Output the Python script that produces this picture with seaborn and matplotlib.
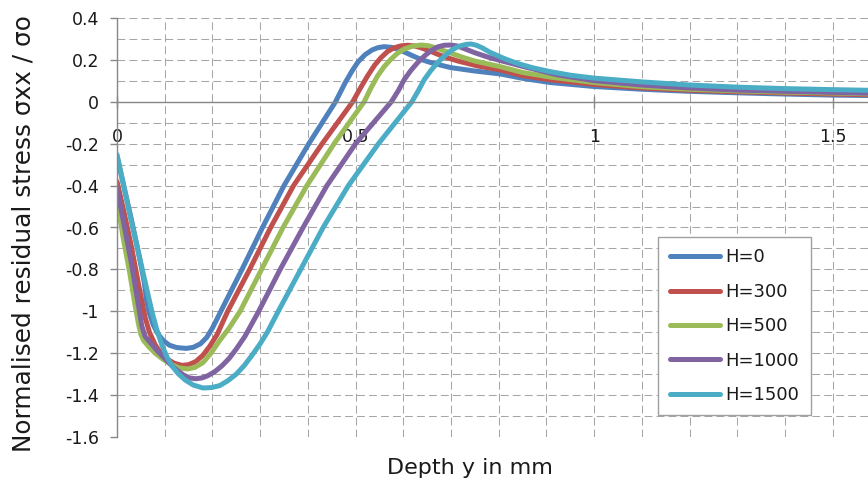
import matplotlib
matplotlib.use("Agg")
import matplotlib.pyplot as plt
from matplotlib.ticker import MultipleLocator
import numpy as np
import pandas as pd
import seaborn as sns

# Residual stress profiles (normalised) versus depth for several H values
labels = ["H=0", "H=300", "H=500", "H=1000", "H=1500"]
colors = ["#4F81BD", "#C0504D", "#9BBB59", "#8064A2", "#4BACC6"]

depth_h0 = [0.000, 0.015, 0.030, 0.045, 0.057, 0.062, 0.068, 0.076, 0.085, 0.097,
            0.110, 0.125, 0.145, 0.160, 0.175, 0.188, 0.200, 0.210, 0.222, 0.262,
            0.305, 0.350, 0.402, 0.458, 0.478, 0.492, 0.505, 0.520, 0.535, 0.548,
            0.560, 0.575, 0.590, 0.605, 0.623, 0.640, 0.658, 0.680, 0.700, 0.750,
            0.803, 0.850, 0.908, 1.000, 1.100, 1.200, 1.300, 1.400, 1.500, 1.575]
stress_h0 = [-0.26, -0.41, -0.56, -0.72, -0.86, -0.95, -1.01, -1.065, -1.105, -1.14,
             -1.162, -1.173, -1.177, -1.172, -1.155, -1.125, -1.08, -1.035, -0.98, -0.80,
             -0.60, -0.40, -0.20, 0.00, 0.09, 0.145, 0.19, 0.225, 0.248, 0.259,
             0.263, 0.26, 0.25, 0.235, 0.216, 0.20, 0.187, 0.174, 0.163, 0.147,
             0.133, 0.112, 0.092, 0.073, 0.060, 0.050, 0.043, 0.037, 0.032, 0.030]

depth_h300 = [0.000, 0.015, 0.031, 0.045, 0.059, 0.068, 0.080, 0.092, 0.105, 0.120,
              0.136, 0.150, 0.165, 0.180, 0.195, 0.210, 0.232, 0.278, 0.322, 0.370,
              0.430, 0.494, 0.510, 0.525, 0.540, 0.553, 0.567, 0.581, 0.595, 0.609,
              0.623, 0.637, 0.655, 0.672, 0.690, 0.714, 0.756, 0.803, 0.850, 0.908,
              1.000, 1.100, 1.200, 1.300, 1.400, 1.500, 1.575]
stress_h300 = [-0.38, -0.53, -0.70, -0.87, -1.03, -1.10, -1.16, -1.20, -1.228, -1.248,
               -1.258, -1.255, -1.24, -1.21, -1.165, -1.11, -1.00, -0.80, -0.60, -0.40,
               -0.20, 0.00, 0.065, 0.123, 0.175, 0.21, 0.24, 0.258, 0.267, 0.27,
               0.267, 0.258, 0.243, 0.227, 0.212, 0.195, 0.171, 0.152, 0.125, 0.105,
               0.083, 0.066, 0.055, 0.048, 0.042, 0.037, 0.034]

depth_h500 = [0.000, 0.013, 0.027, 0.037, 0.045, 0.050, 0.056, 0.067, 0.080, 0.097,
              0.115, 0.130, 0.148, 0.163, 0.180, 0.197, 0.215, 0.235, 0.258, 0.303,
              0.348, 0.398, 0.455, 0.518, 0.532, 0.546, 0.560, 0.574, 0.588, 0.602,
              0.620, 0.637, 0.652, 0.665, 0.680, 0.700, 0.725, 0.749, 0.803, 0.850,
              0.908, 1.000, 1.100, 1.200, 1.300, 1.400, 1.500, 1.575]
stress_h500 = [-0.47, -0.65, -0.82, -0.96, -1.06, -1.11, -1.14, -1.17, -1.20, -1.23,
               -1.255, -1.27, -1.275, -1.268, -1.245, -1.20, -1.14, -1.08, -1.00, -0.80,
               -0.60, -0.40, -0.20, 0.00, 0.065, 0.123, 0.168, 0.203, 0.232, 0.252,
               0.266, 0.271, 0.268, 0.26, 0.248, 0.232, 0.212, 0.195, 0.168, 0.14,
               0.118, 0.092, 0.072, 0.060, 0.052, 0.046, 0.042, 0.038]

depth_h1000 = [0.000, 0.015, 0.031, 0.042, 0.052, 0.059, 0.070, 0.085, 0.100, 0.115,
               0.128, 0.140, 0.152, 0.165, 0.178, 0.190, 0.205, 0.220, 0.235, 0.250,
               0.268, 0.297, 0.342, 0.390, 0.440, 0.500, 0.575, 0.590, 0.602, 0.616,
               0.630, 0.644, 0.658, 0.672, 0.686, 0.700, 0.714, 0.730, 0.749, 0.775,
               0.800, 0.852, 0.922, 1.000, 1.100, 1.200, 1.300, 1.400, 1.500, 1.575]
stress_h1000 = [-0.41, -0.59, -0.78, -0.93, -1.07, -1.12, -1.15, -1.19, -1.225, -1.26,
                -1.285, -1.305, -1.318, -1.322, -1.318, -1.308, -1.288, -1.26, -1.225, -1.18,
                -1.12, -1.00, -0.80, -0.60, -0.40, -0.20, 0.00, 0.055, 0.106, 0.15,
                0.187, 0.218, 0.244, 0.262, 0.27, 0.271, 0.266, 0.252, 0.235, 0.215,
                0.199, 0.168, 0.129, 0.101, 0.080, 0.066, 0.056, 0.050, 0.045, 0.041]

depth_h1500 = [0.000, 0.015, 0.030, 0.045, 0.059, 0.066, 0.073, 0.083, 0.094, 0.105,
               0.115, 0.128, 0.143, 0.160, 0.180, 0.198, 0.215, 0.232, 0.250, 0.267,
               0.283, 0.300, 0.315, 0.338, 0.385, 0.432, 0.485, 0.548, 0.618, 0.632,
               0.644, 0.658, 0.672, 0.686, 0.700, 0.711, 0.721, 0.732, 0.742, 0.753,
               0.765, 0.782, 0.810, 0.838, 0.870, 0.908, 0.950, 1.000, 1.100, 1.200,
               1.300, 1.400, 1.500, 1.575]
stress_h1500 = [-0.252, -0.41, -0.57, -0.72, -0.86, -0.93, -1.00, -1.085, -1.16, -1.22,
                -1.26, -1.297, -1.328, -1.352, -1.366, -1.364, -1.355, -1.332, -1.30, -1.258,
                -1.21, -1.155, -1.10, -1.00, -0.80, -0.60, -0.40, -0.20, 0.00, 0.055,
                0.106, 0.15, 0.187, 0.218, 0.244, 0.259, 0.268, 0.274, 0.276, 0.27,
                0.258, 0.236, 0.208, 0.184, 0.163, 0.144, 0.127, 0.113, 0.095, 0.080,
                0.070, 0.063, 0.058, 0.055]

depths = [depth_h0, depth_h300, depth_h500, depth_h1000, depth_h1500]
stresses = [stress_h0, stress_h300, stress_h500, stress_h1000, stress_h1500]

frames = [pd.DataFrame({"depth": d, "stress": s, "series": lab})
          for d, s, lab in zip(depths, stresses, labels)]
df = pd.concat(frames, ignore_index=True)

sns.set_theme(style="white")
plt.rcParams["font.family"] = ["DejaVu Sans"]

fig = plt.figure(figsize=(8.68, 4.90), dpi=100)
ax = fig.add_axes([117 / 868, 1 - 437 / 490, 751 / 868, 419 / 490])

sns.lineplot(data=df, x="depth", y="stress", hue="series", hue_order=labels,
             palette=colors, linewidth=3.6, estimator=None, sort=False,
             legend=True, ax=ax, solid_joinstyle="round", solid_capstyle="round")

ax.set_xlim(0, 1.574)
ax.set_ylim(-1.6, 0.4)

grid_color = "#a6a6a6"
ax.xaxis.set_major_locator(MultipleLocator(0.5))
ax.xaxis.set_minor_locator(MultipleLocator(0.1))
ax.yaxis.set_major_locator(MultipleLocator(0.2))
ax.yaxis.set_minor_locator(MultipleLocator(0.1))
ax.grid(True, which="both", color=grid_color, linewidth=0.75,
        linestyle=(0, (7.5, 4.0)))
ax.set_axisbelow(True)

# Axis lines: left spine at x=0, horizontal axis crossing at y=0
for side in ("top", "right"):
    ax.spines[side].set_visible(False)
ax.spines["left"].set_color("#888888")
ax.spines["left"].set_linewidth(1.0)
ax.spines["bottom"].set_position(("data", 0))
ax.spines["bottom"].set_color("#888888")
ax.spines["bottom"].set_linewidth(1.0)

ax.tick_params(axis="y", which="major", direction="out", length=5, width=1,
               color="#888888", pad=8, labelsize=12.5, labelcolor="#1a1a1a", left=True)
ax.tick_params(axis="x", which="major", direction="inout", length=8, width=1,
               color="#888888", pad=15, labelsize=12.5, labelcolor="#1a1a1a", bottom=True)
ax.tick_params(which="minor", length=0)

ax.set_yticks(np.round(np.arange(-1.6, 0.41, 0.2), 1))
ax.set_yticklabels(["-1.6", "-1.4", "-1.2", "-1", "-0.8", "-0.6", "-0.4", "-0.2",
                    "0", "0.2", "0.4"])
ax.set_xticks([0, 0.5, 1.0, 1.5])
ax.set_xticklabels(["0", "0.5", "1", "1.5"])

ax.set_xlabel("Depth y in mm", fontsize=16, color="#1a1a1a")
ax.xaxis.set_label_coords(0.47, -0.05)
ax.set_ylabel("Normalised residual stress σxx / σo", fontsize=17.8, color="#1a1a1a")
ax.yaxis.set_label_coords(-0.108, 0.485)

handles, hlabels = ax.get_legend_handles_labels()
for h in handles:
    h.set_linewidth(3.6)
    h.set_solid_capstyle("round")
leg = ax.legend(handles, hlabels, loc="upper left", bbox_to_anchor=(0.7208, 0.4766),
                borderaxespad=0, fontsize=13, frameon=True, fancybox=False,
                handlelength=2.82, handletextpad=0.28, labelspacing=0.91,
                borderpad=0.62)
leg.get_frame().set_edgecolor("#a0a0a0")
leg.get_frame().set_linewidth(1.0)
leg.get_frame().set_facecolor("white")
leg.get_frame().set_alpha(1.0)
for t in leg.get_texts():
    t.set_color("#1a1a1a")

fig.savefig("out.png", dpi=100)
